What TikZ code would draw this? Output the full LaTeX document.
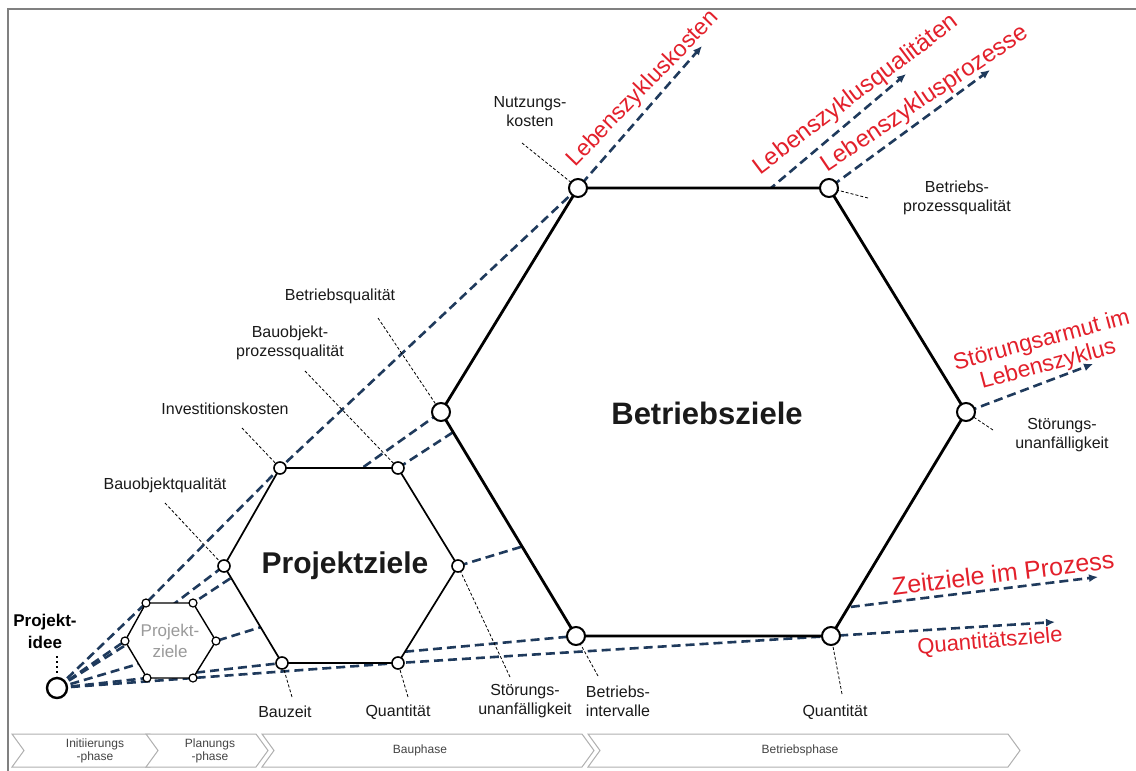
\documentclass[tikz,border=0pt]{standalone}
\usepackage{fontspec}
\setmainfont{Liberation Sans}
\usetikzlibrary{arrows.meta}
\definecolor{navy}{HTML}{1F3A5C}
\definecolor{redlab}{HTML}{E3202B}
\definecolor{framegray}{HTML}{808080}
\definecolor{txt}{HTML}{1A1A1A}
\definecolor{phaseline}{HTML}{B0B0B0}
\definecolor{phasetxt}{HTML}{444444}
\definecolor{ghost}{HTML}{9A9A9A}

\begin{document}
\begin{tikzpicture}[x=1pt,y=-1pt,
  ray/.style={draw=navy,line width=2.6pt,dash pattern=on 9pt off 5pt,
              -{Latex[length=9pt,width=8pt]}},
  hexL/.style={draw=black,fill=white,line width=2.8pt,line join=miter},
  hexM/.style={draw=black,fill=white,line width=1.7pt,line join=miter},
  hexS/.style={draw=black,fill=white,line width=1.4pt,line join=miter},
  vtxL/.style={circle,draw=black,fill=white,line width=2pt,minimum size=18pt,inner sep=0pt},
  vtxM/.style={circle,draw=black,fill=white,line width=1.6pt,minimum size=12pt,inner sep=0pt},
  vtxS/.style={circle,draw=black,fill=white,line width=1.2pt,minimum size=8pt,inner sep=0pt},
  vtxP/.style={circle,draw=black,fill=white,line width=2.4pt,minimum size=20pt,inner sep=0pt},
  leader/.style={draw=black,line width=0.8pt,dash pattern=on 3pt off 2pt},
  lbl/.style={text=txt,font=\fontsize{16}{19}\selectfont,align=center,inner sep=0pt},
  redtxt/.style={text=redlab,align=center,inner sep=0pt},
  chev/.style={draw=phaseline,fill=white,line width=1pt},
  phtxt/.style={text=phasetxt,font=\fontsize{12}{13}\selectfont,align=center,inner sep=0pt}]

\useasboundingbox (0,0) rectangle (1136,771);
\fill[white] (0,0) rectangle (1136,771);

% frame edges
\draw[framegray,line width=2.5pt] (8,771) -- (8,9) -- (1136,9);

% origin and hexagon corner points
\coordinate (P) at (57,688);
\coordinate (sTL) at (146,603); \coordinate (sTR) at (193,603);
\coordinate (sL)  at (125,641); \coordinate (sR)  at (216,641);
\coordinate (sBL) at (147,678); \coordinate (sBR) at (193,678);
\coordinate (mTL) at (280,468); \coordinate (mTR) at (398,468);
\coordinate (mL)  at (224,566); \coordinate (mR)  at (458,566);
\coordinate (mBL) at (282,663); \coordinate (mBR) at (398,663);
\coordinate (lTL) at (578,188); \coordinate (lTR) at (829,188);
\coordinate (lL)  at (441,412); \coordinate (lR)  at (966,412);
\coordinate (lBL) at (576,636); \coordinate (lBR) at (831,636);
% exit points on the large hexagon edges
\coordinate (exQ) at (771,188);
\coordinate (exZ) at (850,607);
% arrow tips
\coordinate (tipK) at (702,46);
\coordinate (tipQ) at (906,74);
\coordinate (tipPr) at (990,70);
\coordinate (tipS) at (1093,364);
\coordinate (tipZ) at (1098,577);
\coordinate (tipQz) at (1055,622);

% goal rays from the project idea
\draw[ray] (P) -- (sTL) -- (mTL) -- (lTL) -- (tipK);
\draw[ray] (P) -- (sL) -- (mL) -- (lL) -- (exQ) -- (tipQ);
\draw[ray] (P) -- (sTR) -- (mTR) -- (lTR) -- (tipPr);
\draw[ray] (P) -- (sR) -- (mR) -- (lR) -- (tipS);
\draw[ray] (P) -- (sBL) -- (mBL) -- (lBL) -- (exZ) -- (tipZ);
\draw[ray] (P) -- (sBR) -- (mBR) -- (lBR) -- (tipQz);

% hexagons
\draw[hexL] (lTL) -- (lTR) -- (lR) -- (lBR) -- (lBL) -- (lL) -- cycle;
\draw[hexM] (mTL) -- (mTR) -- (mR) -- (mBR) -- (mBL) -- (mL) -- cycle;
\draw[hexS] (sTL) -- (sTR) -- (sR) -- (sBR) -- (sBL) -- (sL) -- cycle;

% label leaders
\coordinate (kNutz) at (522,143);
\coordinate (kBpq) at (868,198);
\coordinate (kBq) at (378,318);
\coordinate (kBopq) at (305,371);
\coordinate (kInv) at (242,428);
\coordinate (kBoq) at (165,503);
\coordinate (kBz) at (292,697);
\coordinate (kQm) at (408,697);
\coordinate (kSm) at (510,677);
\coordinate (kBi) at (598,676);
\coordinate (kQl) at (842,694);
\coordinate (kSl) at (993,430);
\draw[leader] (kNutz) -- (lTL);
\draw[leader] (kBpq) -- (lTR);
\draw[leader] (kBq) -- (lL);
\draw[leader] (kBopq) -- (mTR);
\draw[leader] (kInv) -- (mTL);
\draw[leader] (kBoq) -- (mL);
\draw[leader] (kBz) -- (mBL);
\draw[leader] (kQm) -- (mBR);
\draw[leader] (kSm) -- (mR);
\draw[leader] (kBi) -- (lBL);
\draw[leader] (kQl) -- (lBR);
\draw[leader] (kSl) -- (lR);
\coordinate (kIdee) at (57,656);
\draw[black,line width=2pt,dash pattern=on 2pt off 3pt] (kIdee) -- (57,676);

% corner circles
\foreach \v in {lTL,lTR,lL,lR,lBL,lBR} \node[vtxL] (n\v) at (\v) {};
\foreach \v in {mTL,mTR,mL,mR,mBL,mBR} \node[vtxM] (n\v) at (\v) {};
\foreach \v in {sTL,sTR,sL,sR,sBL,sBR} \node[vtxS] (n\v) at (\v) {};
\node[vtxP] (nP) at (P) {};

% hexagon titles
\node[font=\fontsize{31}{34}\selectfont\bfseries,text=txt] (tBetr) at (707,413) {Betriebsziele};
\node[font=\fontsize{30}{33}\selectfont\bfseries,text=txt] (tProj) at (345,566) {Projektziele};
\node[font=\fontsize{17}{21}\selectfont,text=ghost,align=center] (tProjS) at (170,641) {Projekt-\\ziele};
\node[font=\fontsize{17}{22}\selectfont\bfseries,text=black,align=center] (tIdee) at (45,631) {Projekt-\\idee};

% corner labels
\node[lbl] (lNutz) at (530,112) {Nutzungs-\\kosten};
\node[lbl] (lBpq) at (957,198) {Betriebs-\\prozessqualität};
\node[lbl] (lBq) at (340,296) {Betriebsqualität};
\node[lbl] (lBopq) at (290,343) {Bauobjekt-\\prozessqualität};
\node[lbl] (lInv) at (225,409) {Investitionskosten};
\node[lbl] (lBoq) at (165,485) {Bauobjektqualität};
\node[lbl] (lBz) at (285,712) {Bauzeit};
\node[lbl] (lQm) at (398,712) {Quantität};
\node[lbl] (lSm) at (525,701) {Störungs-\\unanfälligkeit};
\node[lbl] (lBi) at (618,701) {Betriebs-\\intervalle};
\node[lbl] (lQl) at (835,712) {Quantität};
\node[lbl] (lSl) at (1062,435) {Störungs-\\unanfälligkeit};

% life-cycle goals
\node[redtxt,font=\fontsize{23}{25}\selectfont,rotate=46] (gK) at (643,89) {Lebenszykluskosten};
\node[redtxt,font=\fontsize{24}{26}\selectfont,rotate=37] (gQ) at (856,95) {Lebenszyklusqualitäten};
\node[redtxt,font=\fontsize{24}{26}\selectfont,rotate=34] (gPr) at (925,99) {Lebenszyklusprozesse};
\node[redtxt,font=\fontsize{23}{25}\selectfont,rotate=15] (gS) at (1045,353) {Störungsarmut im\\Lebenszyklus};
\node[redtxt,font=\fontsize{25}{27}\selectfont,rotate=7] (gZ) at (1003,573) {Zeitziele im Prozess};
\node[redtxt,font=\fontsize{22}{24}\selectfont,rotate=5] (gQz) at (990,642) {Quantitätsziele};

% phase bar
\draw[chev] (12,734) -- (150,734) -- (162,750.5) -- (150,767) -- (12,767) -- (24,750.5) -- cycle;
\draw[chev] (146,734) -- (256,734) -- (268,750.5) -- (256,767) -- (146,767) -- (158,750.5) -- cycle;
\draw[chev] (262,734) -- (582,734) -- (594,750.5) -- (582,767) -- (262,767) -- (274,750.5) -- cycle;
\draw[chev] (588,734) -- (1008,734) -- (1020,750.5) -- (1008,767) -- (588,767) -- (600,750.5) -- cycle;
\node[phtxt] (ph1) at (95,750.5) {Initiierungs\\-phase};
\node[phtxt] (ph2) at (210,750.5) {Planungs\\-phase};
\node[phtxt] (ph3) at (420,750.5) {Bauphase};
\node[phtxt] (ph4) at (800,750.5) {Betriebsphase};
\end{tikzpicture}
\end{document}
